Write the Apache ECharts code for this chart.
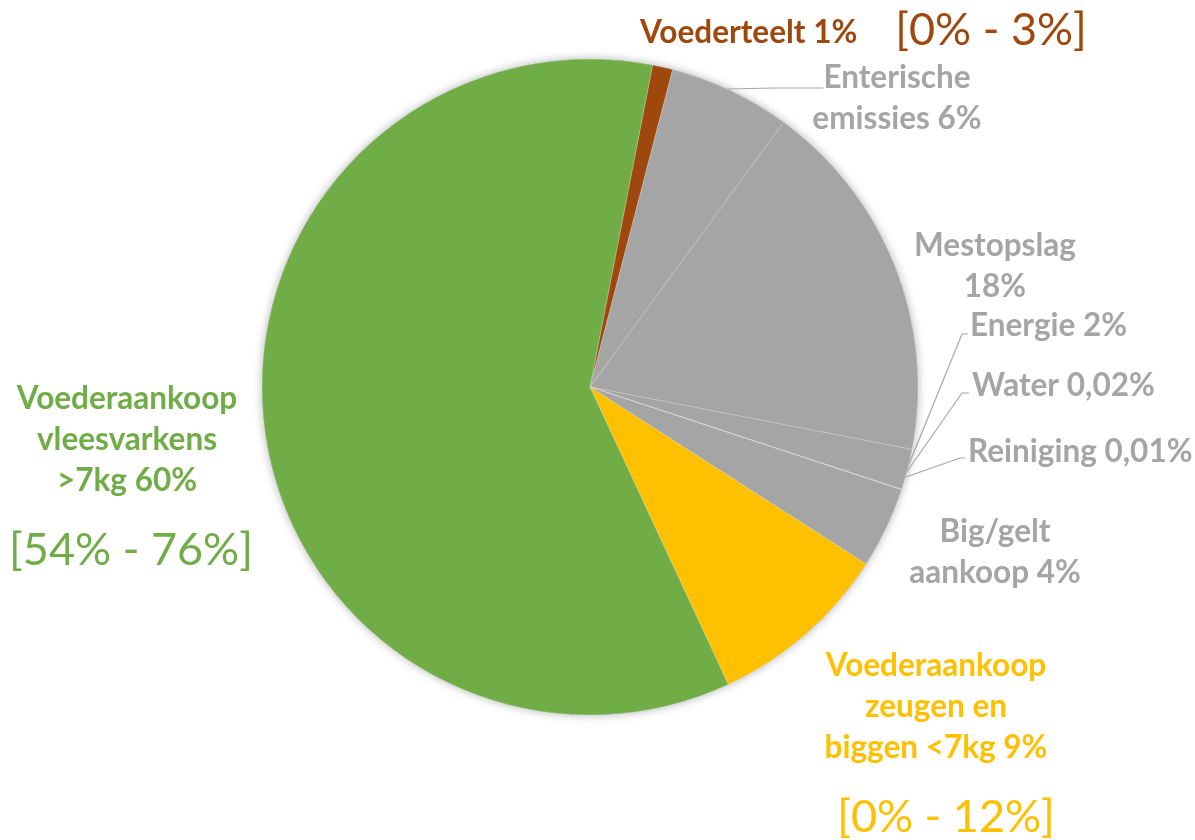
<!DOCTYPE html>
<html>
<head>
<meta charset="utf-8">
<script src="https://cdn.jsdelivr.net/npm/echarts@6/dist/echarts.min.js"></script>
<style>
html,body{margin:0;padding:0;background:#fff;}
#chart{width:1195px;height:840px;}
</style>
</head>
<body>
<div id="chart"></div>
<script>
// ---- data ----
const categories = ['Voederteelt', 'Enterische\nemissies', 'Mestopslag', 'Energie', 'Water', 'Reiniging', 'Big/gelt\naankoop', 'Voederaankoop\nzeugen en\nbiggen <7kg', 'Voederaankoop\nvleesvarkens\n>7kg'];
const values = [1, 6, 18, 2, 0.02, 0.01, 4, 9, 60];
const colors = ['#9E480E', '#A5A5A5', '#A5A5A5', '#A5A5A5', '#A5A5A5', '#A5A5A5', '#A5A5A5', '#FFC000', '#70AD47'];
const ranges = ['[0% - 3%]', '', '', '', '', '', '', '[0% - 12%]', '[54% - 76%]'];

// ---- layout (positions/styles) ----
const FONT = 'Lato, "Open Sans", sans-serif';
const labelPos = [
  {x: 640, y: 33, align: 'left'},
  {x: 897, y: 98, align: 'center'},
  {x: 995, y: 266, align: 'center'},
  {x: 970, y: 326, align: 'left', line: [[905, 474], [962, 334], [968, 334]]},
  {x: 972, y: 386, align: 'left', line: [[904, 476], [962, 393], [969, 393]]},
  {x: 968, y: 452, align: 'left', line: [[903, 478], [960, 458], [965, 458]]},
  {x: 995, y: 552, align: 'center'},
  {x: 936, y: 707, align: 'center'},
  {x: 127, y: 440, align: 'center'}
];
labelPos[1].line = [[727, 89], [775, 88], [823, 88]];
const rangePos = [
  {x: 991, y: 30}, null, null, null, null, null, null,
  {x: 946, y: 817}, {x: 131, y: 550}
];

function fmt(v) { return String(v).replace('.', ',') + '%'; }

const chart = echarts.init(document.getElementById('chart'), null, {renderer: 'canvas'});

const data = categories.map((c, i) => ({
  name: c,
  value: values[i],
  itemStyle: {color: colors[i]},
  label: {color: colors[i]},
  labelLine: {show: !!labelPos[i].line}
}));

const graphics = [];
ranges.forEach((r, i) => {
  if (!r) return;
  graphics.push({
    type: 'text',
    x: rangePos[i].x, y: rangePos[i].y,
    style: {
      text: r, fill: colors[i], font: '45px ' + FONT,
      align: 'center', verticalAlign: 'middle'
    }
  });
});

chart.setOption({
  animation: false,
  backgroundColor: '#ffffff',
  graphic: graphics,
  series: [
    {
      type: 'pie',
      silent: true,
      center: [590, 387],
      radius: 328,
      z: 1,
      data: [{value: 1, itemStyle: {color: '#A5A5A5', shadowBlur: 10, shadowColor: 'rgba(0,0,0,0.3)'}}],
      label: {show: false},
      labelLine: {show: false}
    },
    {
      type: 'pie',
      center: [590, 387],
      radius: 328,
      startAngle: 79,
      clockwise: true,
      z: 2,
      avoidLabelOverlap: false,
      itemStyle: {borderColor: 'rgba(255,255,255,0.3)', borderWidth: 0.8},
      data: data,
      label: {
        show: true,
        position: 'outside',
        fontFamily: FONT,
        fontWeight: 'bold',
        fontSize: 31.5,
        lineHeight: 41,
        formatter: p => p.name + (p.dataIndex === 2 ? '\n' : ' ') + fmt(values[p.dataIndex])
      },
      labelLine: {lineStyle: {color: '#A6A6A6', width: 1.2}, smooth: false},
      labelLayout: function (params) {
        const lp = labelPos[params.dataIndex];
        const o = {x: lp.x, y: lp.y, align: lp.align, verticalAlign: 'middle'};
        if (lp.line) o.labelLinePoints = lp.line;
        return o;
      }
    }
  ]
});
</script>
</body>
</html>
